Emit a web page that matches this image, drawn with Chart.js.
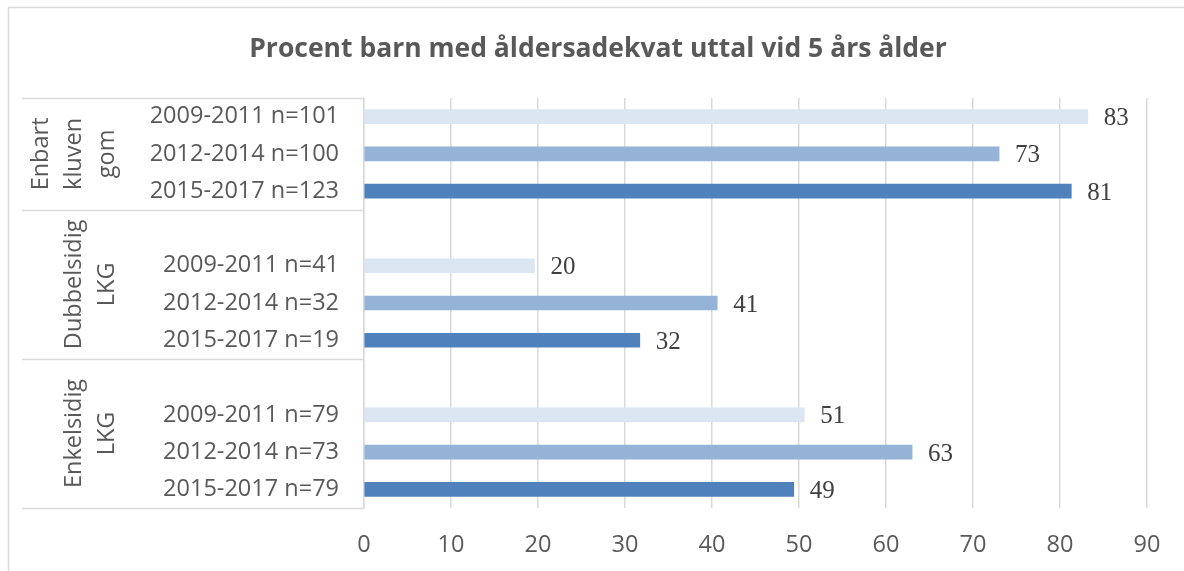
<!DOCTYPE html>
<html>
<head>
<meta charset="utf-8">
<script src="https://cdn.jsdelivr.net/npm/chart.js@4.4.1/dist/chart.umd.min.js"></script>
<style>
  html, body { margin: 0; padding: 0; background: #ffffff; }
  #wrap { width: 1184px; height: 571px; position: relative; }
</style>
</head>
<body>
<div id="wrap"><canvas id="c" width="1184" height="571"></canvas></div>
<script>
// ---- data ----
const titleText = 'Procent barn med åldersadekvat uttal vid 5 års ålder';
const categories = [
  '2009-2011 n=101', '2012-2014 n=100', '2015-2017 n=123',
  '', '2009-2011 n=41', '2012-2014 n=32', '2015-2017 n=19',
  '', '2009-2011 n=79', '2012-2014 n=73', '2015-2017 n=79'
];
const values = [83.2, 73.0, 81.3, null, 19.6, 40.6, 31.7, null, 50.6, 63.0, 49.4];
const barColors = ['#DCE6F2', '#95B3D7', '#4F81BD', '#ffffff', '#DCE6F2', '#95B3D7', '#4F81BD', '#ffffff', '#DCE6F2', '#95B3D7', '#4F81BD'];
const groupNames = [['Enbart', 'kluven', 'gom'], ['Dubbelsidig', 'LKG'], ['Enkelsidig', 'LKG']];
const groupRanges = [[0, 2], [3, 6], [7, 10]];
const xTicks = [0, 10, 20, 30, 40, 50, 60, 70, 80, 90];

const LINE = '#D9D9D9';
const TEXT = '#595959';
const SANS = "'Open Sans', 'Noto Sans', sans-serif";

const framePlugin = {
  id: 'frame',
  beforeDraw(chart) {
    const ctx = chart.ctx;
    ctx.save();
    ctx.fillStyle = '#ffffff';
    ctx.fillRect(0, 0, chart.width, chart.height);
    ctx.strokeStyle = LINE;
    ctx.lineWidth = 1.5;
    ctx.beginPath();
    ctx.moveTo(8.5, chart.height);
    ctx.lineTo(8.5, 7.5);
    ctx.lineTo(chart.width, 7.5);
    ctx.stroke();
    // title
    ctx.fillStyle = TEXT;
    ctx.font = "bold 26.5px " + SANS;
    ctx.textAlign = 'center';
    ctx.textBaseline = 'middle';
    ctx.fillText(titleText, 598, 49);
    ctx.restore();
  }
};

const groupPlugin = {
  id: 'groups',
  afterDraw(chart) {
    const ctx = chart.ctx;
    const y = chart.scales.y;
    const left = chart.chartArea.left;
    ctx.save();
    ctx.strokeStyle = LINE;
    ctx.lineWidth = 1.5;
    const bounds = [groupRanges[0][0] - 0.5].concat(groupRanges.map(r => r[1] + 0.5));
    bounds.forEach(b => {
      const py = Math.round(y.getPixelForValue(b)) + 0.5;
      ctx.beginPath();
      ctx.moveTo(22, py);
      ctx.lineTo(left, py);
      ctx.stroke();
    });
    ctx.fillStyle = TEXT;
    ctx.font = "23.5px " + SANS;
    ctx.textAlign = 'center';
    ctx.textBaseline = 'middle';
    groupRanges.forEach((r, gi) => {
      const top = y.getPixelForValue(r[0] - 0.5);
      const bot = y.getPixelForValue(r[1] + 0.5);
      const cy = (top + bot) / 2;
      const lines = groupNames[gi];
      lines.forEach((ln, li) => {
        const cx = 107 - (lines.length - 1 - li) * 33;
        ctx.save();
        ctx.translate(cx, cy);
        ctx.rotate(-Math.PI / 2);
        ctx.fillText(ln, 0, 0);
        ctx.restore();
      });
    });
    ctx.restore();
  }
};

const labelPlugin = {
  id: 'vlabels',
  afterDatasetsDraw(chart) {
    const ctx = chart.ctx;
    const meta = chart.getDatasetMeta(0);
    ctx.save();
    ctx.fillStyle = '#404040';
    ctx.font = "25px 'Liberation Serif', 'DejaVu Serif', serif";
    ctx.textAlign = 'left';
    ctx.textBaseline = 'middle';
    meta.data.forEach((el, i) => {
      const v = values[i];
      if (v === null || v === undefined) return;
      ctx.fillText(v.toFixed(0), el.x + 16, el.y + 2);
    });
    ctx.restore();
  }
};

new Chart(document.getElementById('c'), {
  type: 'bar',
  data: {
    labels: categories,
    datasets: [{
      data: values,
      backgroundColor: barColors,
      borderWidth: 0,
      barThickness: 14
    }]
  },
  options: {
    indexAxis: 'y',
    responsive: false,
    animation: false,
    devicePixelRatio: 1,
    layout: { padding: { left: 0, right: 37, top: 98, bottom: 0 } },
    plugins: {
      legend: { display: false },
      tooltip: { enabled: false },
      title: { display: false }
    },
    scales: {
      x: {
        min: 0, max: 90,
        afterBuildTicks(scale) { scale.ticks = xTicks.map(v => ({ value: v })); },
        ticks: { color: TEXT, font: { family: SANS, size: 23.5 }, padding: 23 },
        grid: { color: LINE, lineWidth: 1.5, drawTicks: false },
        border: { display: false },
        afterFit(scale) { scale.height = 63; }
      },
      y: {
        ticks: { color: TEXT, font: { family: SANS, size: 23.5 }, padding: 25, autoSkip: false },
        grid: { display: false, drawTicks: false },
        border: { display: true, color: LINE, width: 1.5 },
        afterFit(scale) { scale.width = 364; }
      }
    }
  },
  plugins: [framePlugin, groupPlugin, labelPlugin]
});
</script>
</body>
</html>
